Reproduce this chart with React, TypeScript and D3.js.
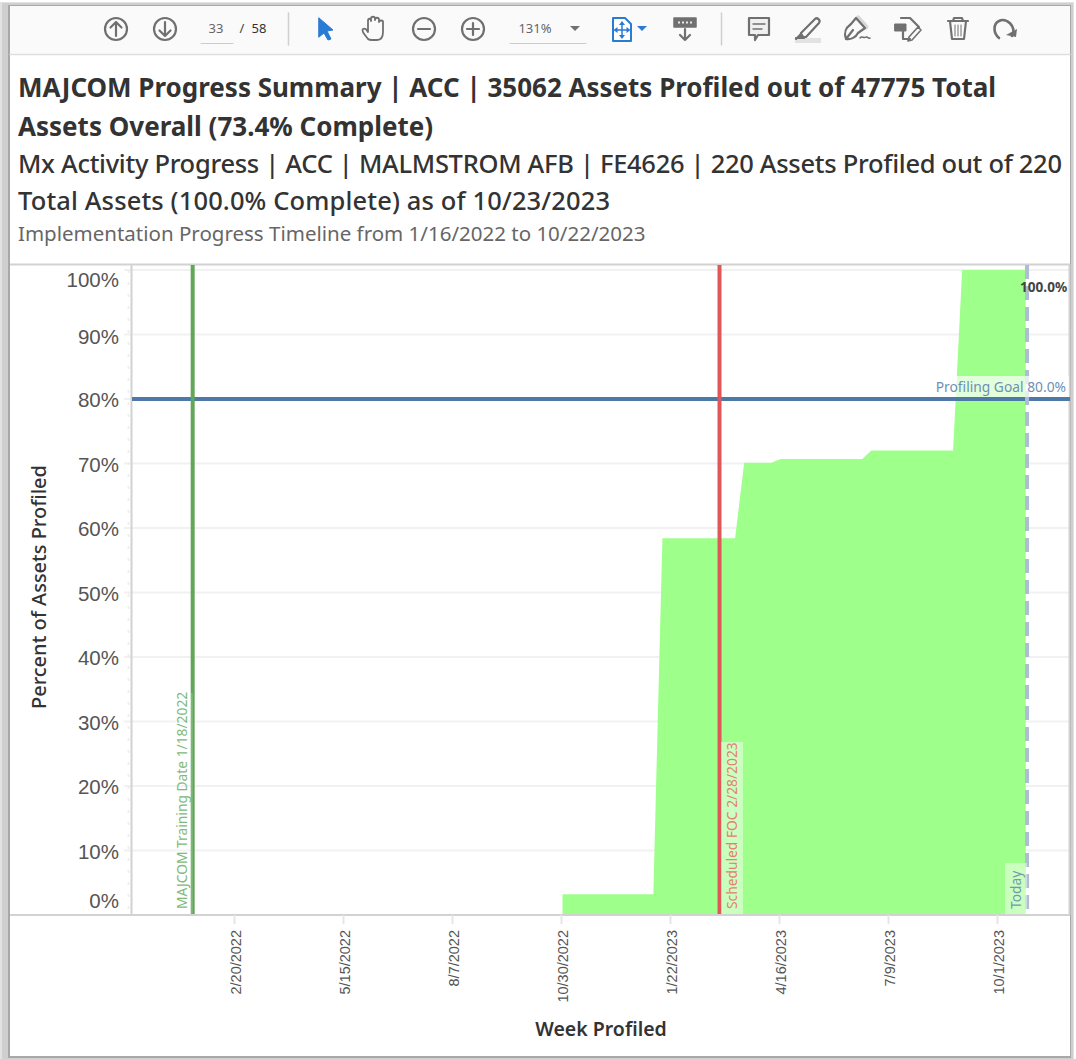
import { useEffect, useRef } from "react";
import * as d3 from "d3";

const parseDate = d3.timeParse("%m/%d/%Y");
const formatDate = d3.timeFormat("%-m/%-d/%Y");

// Weeks where the cumulative percent changes
const weeks = [
	"10/30/2022", "01/08/2023", "01/15/2023", "03/12/2023", "03/19/2023", "04/09/2023",
	"04/16/2023", "06/18/2023", "06/25/2023", "08/27/2023", "09/03/2023", "10/22/2023",
];
const percentProfiled = [3.2, 3.2, 58.4, 58.4, 70.1, 70.1, 70.7, 70.7, 72.0, 72.0, 100, 100];

const xTickDates = ["02/20/2022", "05/15/2022", "08/07/2022", "10/30/2022", "01/22/2023", "04/16/2023", "07/09/2023", "10/01/2023"];
const yTicks = [0, 10, 20, 30, 40, 50, 60, 70, 80, 90, 100];

const trainingDate = "01/18/2022";
const focDate = "02/28/2023";
const todayDate = "10/23/2023";
const goalPercent = 80;

const FONT = "'Noto Sans', sans-serif";
const AXIS_FONT = "'Liberation Sans', sans-serif";

function Toolbar() {
	const g = "#707070";
	const blue = "#2a7bd3";
	return (
		<g fill="none" stroke={g} strokeWidth={2.2} strokeLinecap="round" strokeLinejoin="round">
			<rect x={10} y={6} width={1060} height={48} fill="#fafafa" stroke="none" />
			<line x1={10} x2={1070} y1={54.5} y2={54.5} stroke="#dedede" strokeWidth={1.5} />
			<circle cx={116} cy={29} r={11} />
			<path d="M116 36V22M110.5 27.5L116 22L121.5 27.5" />
			<circle cx={165} cy={29} r={11} />
			<path d="M165 22V36M159.5 30.5L165 36L170.5 30.5" />
			<g stroke="none" fontFamily={FONT} fontSize={13}>
				<text x={216} y={33} textAnchor="middle" fill="#666">33</text>
				<text x={242} y={33} textAnchor="middle" fill="#444">/</text>
				<text x={259} y={33} textAnchor="middle" fill="#333">58</text>
				<text x={535} y={33} textAnchor="middle" fill="#666">131%</text>
			</g>
			<line x1={201} x2={233} y1={43.5} y2={43.5} stroke="#ccc" strokeWidth={1} />
			<line x1={510} x2={586} y1={43.5} y2={43.5} stroke="#ccc" strokeWidth={1} />
			<line x1={288.5} x2={288.5} y1={13} y2={45} stroke="#d0d0d0" strokeWidth={1.5} />
			<line x1={721.5} x2={721.5} y1={13} y2={45} stroke="#d0d0d0" strokeWidth={1.5} />
			<path d="M319 18L333 30L327 31L331 39L328 40L324 33L319 37Z" fill={blue} stroke={blue} strokeWidth={1} />
			<path d="M368 39C365 35 361 31 363 29C365 28 367 30 368 32V21C368 18 371 18 371 21V19C371 16 375 16 375 19V20C375 17 379 17 379 20V22C379 20 383 20 383 22V32C383 37 381 40 377 40H372C370 40 369 40 368 39Z" strokeWidth={1.8} />
			<circle cx={424} cy={29} r={11} />
			<path d="M418 29H430" />
			<circle cx={473} cy={29} r={11} />
			<path d="M467 29H479M473 23V35" />
			<path d="M570 26H580L575 31Z" fill={g} stroke="none" />
			<path d="M613 18H625L631 24V41H613Z" stroke={blue} strokeWidth={2} fill="#fff" />
			<path d="M622 23V37M615.5 30H628.5" stroke={blue} strokeWidth={1.5} />
			<path d="M622 21L619 25H625ZM622 39L619 35H625ZM613.500 30L617.500 27V33ZM630.500 30L626.500 27V33Z" stroke="none" fill={blue} />
			<path d="M637 26H647L642 31Z" fill={blue} stroke="none" />
			<rect x={674} y={18} width={22} height={9} fill={g} stroke={g} strokeWidth={1.5} />
			<path d="M678 22.500H692" stroke="#e8e8e8" strokeWidth={2} strokeDasharray="2 2" strokeLinecap="butt" />
			<path d="M685 29V40M680 35L685 40L690 35" />
			<path d="M749 18H769V35H758L755 40V35H749Z" fill="#f0f0f0" />
			<path d="M753 24H765M753 29H762" strokeWidth={1.4} />
			<rect x={795} y={38} width={26} height={5} fill="#e2e2e2" stroke="none" />
			<path d="M801 33L815 19C817 17 821 20 819 23L806 37H801Z" />
			<path d="M796 39L801 34L804 38H796Z" fill={g} />
			<path d="M858 18L866 27" stroke="#d8d8d8" strokeWidth={5} />
			<path d="M846 39C843 31 847 27 851 24L856 18L865 28L858 33C856 37 851 40 846 39ZM846 39L853 30" />
			<path d="M860 38C862 35 864 39 866 37C867 36 868 39 870 38" strokeWidth={1.5} />
			<path d="M901 18H910L919 27M903 30V39H910" />
			<rect x={895} y={24} width={11} height={7} fill={g} stroke={g} strokeWidth={1} />
			<path d="M912 40L908 41L909 37L918 27L921 30Z" strokeWidth={1.6} />
			<path d="M948 21H968M953 21L954 18H962L963 21" />
			<path d="M950 21L952 39H964L966 21Z" />
			<path d="M955 25V36M958 25V36M961 25V36" strokeWidth={1} />
			<path d="M1012 36C1017 26 1006 17 999 21C993 24 993 33 999 38" strokeWidth={2.6} />
			<path d="M1006 35L1016 37L1017 29Z" fill={g} stroke="none" />
		</g>
	);
}

export default function App() {
	const ref = useRef<SVGGElement>(null);

	useEffect(() => {
		const root = d3.select(ref.current);
		root.selectAll("*").remove();

		const x = d3
			.scaleTime()
			.domain([parseDate(xTickDates[0])!, parseDate(xTickDates[xTickDates.length - 1])!])
			.range([234, 997]);
		const y = d3.scaleLinear().domain([0, 100]).range([915, 270]);
		// Tableau draws the marks a little to the right of the axis ticks
		const markX = (s: string) => x(parseDate(s)!) + 1.5;

		// Gridlines
		root.append("g")
			.selectAll("line")
			.data(yTicks.slice(1))
			.join("line")
			.attr("x1", 124)
			.attr("x2", 1069)
			.attr("y1", (d) => y(d))
			.attr("y2", (d) => y(d))
			.attr("stroke", "#f1f1f1")
			.attr("stroke-width", 2);

		// Progress area
		const area = d3
			.area<string>()
			.x((d) => markX(d))
			.y0(y(0))
			.y1((_, i) => y(percentProfiled[i]));
		root.append("path").attr("d", area(weeks)).attr("fill", "#9eff8a");

		// Frame and axis lines
		const frame = root.append("g").attr("stroke", "#d2d2d2").attr("stroke-width", 2);
		frame.append("line").attr("x1", 10).attr("x2", 1070).attr("y1", 264.5).attr("y2", 264.5);
		frame.append("line").attr("x1", 10).attr("x2", 1070).attr("y1", 915).attr("y2", 915);
		frame.append("line").attr("x1", 131.5).attr("x2", 131.5).attr("y1", 264).attr("y2", 915);
		frame.append("line").attr("x1", 1069.5).attr("x2", 1069.5).attr("y1", 264).attr("y2", 915);

		// Faint minor ticks along the y axis
		root.append("line")
			.attr("x1", 128.5)
			.attr("x2", 128.5)
			.attr("y1", 270)
			.attr("y2", 914)
			.attr("stroke", "#efefef")
			.attr("stroke-width", 2)
			.attr("stroke-dasharray", "3 9");

		// Y axis labels: the end ones get nudged inside the frame
		const yNudge = (d: number) => (d === 100 ? 10 : d === 0 ? -14 : d === 90 ? 2 : 1);
		root.append("g")
			.selectAll("text")
			.data(yTicks)
			.join("text")
			.attr("x", 119)
			.attr("y", (d) => y(d) + yNudge(d))
			.attr("dy", "0.35em")
			.attr("text-anchor", "end")
			.attr("font-family", AXIS_FONT)
			.attr("font-size", 20.5)
			.attr("fill", "#555")
			.text((d) => `${d}%`);

		// X axis
		const xAxis = d3
			.axisBottom(x)
			.tickValues(xTickDates.map((d) => parseDate(d)!))
			.tickSize(9)
			.tickFormat((d) => formatDate(d as Date));
		const xG = root.append("g").attr("transform", "translate(0, 915)").call(xAxis);
		xG.select(".domain").remove();
		xG.selectAll(".tick line").attr("stroke", "#e6e6e6").attr("stroke-width", 2);
		xG.selectAll<SVGTextElement, Date>(".tick text")
			.attr("transform", "rotate(-90)")
			.attr("x", -15)
			.attr("y", 1)
			.attr("dy", "0.35em")
			.attr("text-anchor", "end")
			.attr("font-family", AXIS_FONT)
			.attr("font-size", 14.5)
			.attr("fill", "#555");

		// Goal line
		root.append("line")
			.attr("x1", 132)
			.attr("x2", 1070)
			.attr("y1", y(goalPercent))
			.attr("y2", y(goalPercent))
			.attr("stroke", "#4e79a7")
			.attr("stroke-width", 4);

		// Reference lines with their rotated labels
		const refLines = [
			{ date: trainingDate, color: "#62a65a", label: "MAJCOM Training Date 1/18/2022", text: "#80bb79", dashed: false, boxTop: 693 },
			{ date: focDate, color: "#e15759", label: "Scheduled FOC 2/28/2023", text: "#e58074", dashed: false, boxTop: 742 },
			{ date: todayDate, color: "#aebcd6", label: "Today", text: "#6f9bb0", dashed: true, boxTop: 863 },
		];
		refLines.forEach((r) => {
			const px = markX(r.date);
			const isToday = r.dashed;
			const boxX = r.date === trainingDate ? px - 22 : isToday ? px - 22 : px + 1.5;
			root.append("line")
				.attr("x1", px)
				.attr("x2", px)
				.attr("y1", 265)
				.attr("y2", 914)
				.attr("stroke", r.color)
				.attr("stroke-width", 4)
				.attr("stroke-dasharray", r.dashed ? "14 7" : null);
			root.append("rect")
				.attr("x", boxX)
				.attr("y", r.boxTop)
				.attr("width", 22)
				.attr("height", 914 - r.boxTop)
				.attr("fill", "#fff")
				.attr("fill-opacity", r.date === trainingDate ? 0.2 : 0.45);
			root.append("text")
				.attr("transform", `translate(${boxX + 11}, 909) rotate(-90)`)
				.attr("dy", "0.35em")
				.attr("font-family", FONT)
				.attr("font-size", 13.8)
				.attr("fill", r.text)
				.text(r.label);
		});

		// Goal label sits over the today line
		root.append("rect").attr("x", 931).attr("y", 376).attr("width", 138).attr("height", 21).attr("fill", "#fff").attr("fill-opacity", 0.7);
		root.append("text")
			.attr("x", 1066)
			.attr("y", 392)
			.attr("text-anchor", "end")
			.attr("font-family", FONT)
			.attr("font-size", 13.8)
			.attr("fill", "#6f8fb5")
			.text("Profiling Goal 80.0%");

		// Value label at the end of the area
		root.append("text")
			.attr("x", 1020)
			.attr("y", 292)
			.attr("font-family", FONT)
			.attr("font-size", 13.6)
			.attr("font-weight", 700)
			.attr("fill", "#444")
			.text("100.0%");
	}, []);

	return (
		<svg width={1076} height={1059} style={{ position: "absolute", left: 0, top: 0, display: "block" }}>
			{/* Window shadow */}
			<rect x={0} y={0} width={1076} height={1059} fill="#fff" />
			<rect x={0} y={2} width={1074} height={1057} fill="#e2e2e2" />
			<rect x={2} y={3} width={1071} height={1056} fill="#cfcfcf" />
			<rect x={8} y={5} width={1063} height={1053} fill="#a8a8a8" />
			<rect x={10} y={6} width={1060} height={1050} fill="#fff" />
			<Toolbar />
			<g fontFamily={FONT} fill="#333">
				<text x={18} y={97} fontSize={26} fontWeight={700} textLength={978}>MAJCOM Progress Summary | ACC | 35062 Assets Profiled out of 47775 Total</text>
				<text x={18} y={136} fontSize={26} fontWeight={700}>Assets Overall (73.4% Complete)</text>
				<text x={18} y={173} fontSize={25.5} fontWeight={500} textLength={1044}>Mx Activity Progress | ACC | MALMSTROM AFB | FE4626 | 220 Assets Profiled out of 220</text>
				<text x={18} y={210} fontSize={25.5} fontWeight={500} textLength={592}>Total Assets (100.0% Complete) as of 10/23/2023</text>
				<text x={18} y={241} fontSize={20.5} fill="#666">Implementation Progress Timeline from 1/16/2022 to 10/22/2023</text>
				<text transform="translate(46, 587) rotate(-90)" textAnchor="middle" fontSize={20} fontWeight={500}>Percent of Assets Profiled</text>
				<text x={601} y={1036} textAnchor="middle" fontSize={19.5} fontWeight={600}>Week Profiled</text>
			</g>
			<g ref={ref} />
		</svg>
	);
}
